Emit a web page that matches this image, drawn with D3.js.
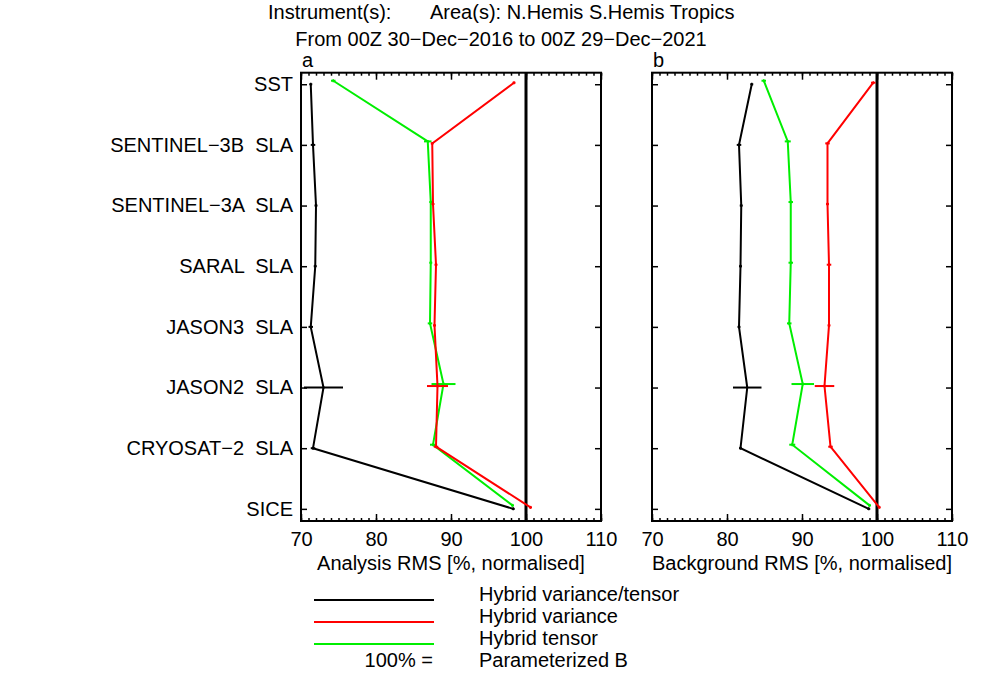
<!DOCTYPE html>
<html>
<head>
<meta charset="utf-8">
<script src="https://cdn.jsdelivr.net/npm/d3@7"></script>
<style>
  body { margin: 0; background: #fff; }
  svg { font-family: "Liberation Sans", Arial, sans-serif; }
  text { white-space: pre; }
</style>
</head>
<body>
<div id="chart"></div>
<script>
(function () {
    "use strict";

    // categories, top to bottom
    var categories = ["SST", "SENTINEL\u22123B  SLA", "SENTINEL\u22123A  SLA", "SARAL  SLA",
        "JASON3  SLA", "JASON2  SLA", "CRYOSAT\u22122  SLA", "SICE"];

    var seriesNames = ["Hybrid variance/tensor", "Hybrid variance", "Hybrid tensor"];
    var seriesColors = ["#000000", "#ff0000", "#00ee00"];

    // panel a: analysis RMS [%, normalised]
    var analysisBlack = [71.3, 71.6, 72.0, 71.9, 71.3, 73.0, 71.6, 98.3];
    var analysisRed   = [98.4, 87.5, 87.6, 88.0, 87.8, 88.2, 88.0, 100.6];
    var analysisGreen = [74.3, 86.9, 87.3, 87.3, 87.2, 89.0, 87.6, 98.2];
    var analysisErrBlack = [0.2, 0.3, 0.2, 0.2, 0.3, 2.6, 0.3, 0.2];
    var analysisErrRed   = [0.2, 0.2, 0.2, 0.2, 0.2, 1.4, 0.3, 0.2];
    var analysisErrGreen = [0.3, 0.5, 0.2, 0.2, 0.3, 1.6, 0.4, 0.2];

    // panel b: background RMS [%, normalised]
    var backgroundBlack = [83.3, 81.6, 81.9, 81.8, 81.6, 82.7, 81.8, 98.9];
    var backgroundRed   = [99.5, 93.4, 93.4, 93.6, 93.6, 93.0, 93.8, 100.3];
    var backgroundGreen = [84.9, 88.1, 88.5, 88.5, 88.3, 90.1, 88.7, 99.0];
    var backgroundErrBlack = [0.2, 0.3, 0.2, 0.2, 0.2, 1.9, 0.2, 0.2];
    var backgroundErrRed   = [0.3, 0.3, 0.2, 0.3, 0.2, 1.3, 0.3, 0.2];
    var backgroundErrGreen = [0.3, 0.4, 0.3, 0.3, 0.3, 1.5, 0.4, 0.2];

    var xTicks = [70, 80, 90, 100, 110];
    var xDomain = [70, 110];
    var reference = 100;

    var titleLeft = "Instrument(s):";
    var titleRight = "Area(s): N.Hemis S.Hemis Tropics";
    var subtitle = "From 00Z 30\u2212Dec\u22122016 to 00Z 29\u2212Dec\u22122021";

    var width = 1002, height = 677;
    var top = 72.7, bottom = 521;
    var fontSize = 20;

    var svg = d3.select("#chart").append("svg")
        .attr("width", width)
        .attr("height", height)
        .style("font-size", fontSize + "px");

    var y = d3.scaleLinear().domain([-0.19, 7.2]).range([top, bottom]);
    var yOffset = [0, -1.5, -3.5];

    svg.append("text").attr("x", 268).attr("y", 19).text(titleLeft);
    svg.append("text").attr("x", 430).attr("y", 19).text(titleRight);
    svg.append("text").attr("x", 501).attr("y", 46).attr("text-anchor", "middle").text(subtitle);

    function drawPanel(opts) {
        var x = d3.scaleLinear().domain(xDomain).range([opts.left, opts.right]);
        var g = svg.append("g");
        var minor = d3.range(xDomain[0], xDomain[1] + 1, 1);

        // top axis
        g.append("g").attr("transform", "translate(0," + top + ")")
            .call(d3.axisTop(x).tickValues(minor).tickSize(-3).tickSizeOuter(0).tickFormat(""));
        g.append("g").attr("transform", "translate(0," + top + ")")
            .call(d3.axisTop(x).tickValues(xTicks).tickSize(-7).tickSizeOuter(0).tickFormat(""));
        // bottom axis
        g.append("g").attr("transform", "translate(0," + bottom + ")")
            .call(d3.axisBottom(x).tickValues(minor).tickSize(-3).tickSizeOuter(0).tickFormat(""));
        g.append("g").attr("class", "xlab").attr("transform", "translate(0," + bottom + ")")
            .call(d3.axisBottom(x).tickValues(xTicks).tickSize(-7).tickSizeOuter(0).tickPadding(11));
        // left / right axes
        var left = d3.axisLeft(y).tickValues(d3.range(categories.length))
            .tickSize(-6).tickSizeOuter(0).tickPadding(8)
            .tickFormat(function (i) { return opts.labels ? categories[i] : ""; });
        g.append("g").attr("transform", "translate(" + opts.left + ",0)").call(left);
        g.append("g").attr("transform", "translate(" + opts.right + ",0)")
            .call(d3.axisRight(y).tickValues(d3.range(categories.length))
                .tickSize(-6).tickSizeOuter(0).tickFormat(""));

        g.selectAll(".domain").remove();
        g.selectAll(".tick line").attr("stroke", "#000").attr("stroke-width", 1.5);
        g.selectAll(".tick text").attr("fill", "#000").style("font-size", fontSize + "px")
            .style("font-family", "'Liberation Sans', Arial, sans-serif");

        g.append("rect")
            .attr("x", opts.left).attr("y", top)
            .attr("width", opts.right - opts.left).attr("height", bottom - top)
            .attr("fill", "none").attr("stroke", "#000").attr("stroke-width", 2);

        // 100% reference line
        g.append("line")
            .attr("x1", x(reference)).attr("x2", x(reference))
            .attr("y1", top).attr("y2", bottom)
            .attr("stroke", "#000").attr("stroke-width", 3);

        // series lines with error bars, green drawn first
        [2, 1, 0].forEach(function (s) {
            var vals = opts.values[s], errs = opts.errors[s], col = seriesColors[s];
            var line = d3.line()
                .x(function (d) { return x(d); })
                .y(function (d, i) { return y(i) + yOffset[s]; });
            g.append("path").datum(vals)
                .attr("d", line)
                .attr("fill", "none").attr("stroke", col).attr("stroke-width", 2);
            g.selectAll(null).data(vals).enter().append("line")
                .attr("x1", function (d, i) { return x(d - errs[i]); })
                .attr("x2", function (d, i) { return x(d + errs[i]); })
                .attr("y1", function (d, i) { return y(i) + yOffset[s]; })
                .attr("y2", function (d, i) { return y(i) + yOffset[s]; })
                .attr("stroke", col).attr("stroke-width", 2);
            g.selectAll(null).data(vals).enter().append("line")
                .attr("x1", function (d) { return x(d); })
                .attr("x2", function (d) { return x(d); })
                .attr("y1", function (d, i) { return y(i) + yOffset[s] - 1.5; })
                .attr("y2", function (d, i) { return y(i) + yOffset[s] + 1.5; })
                .attr("stroke", col).attr("stroke-width", 1.5);
        });

        svg.append("text")
            .attr("x", opts.left + 1).attr("y", 67)
            .text(opts.letter);
        svg.append("text")
            .attr("x", (opts.left + opts.right) / 2).attr("y", 570)
            .attr("text-anchor", "middle")
            .text(opts.title);
    }

    drawPanel({
        left: 301, right: 601, labels: true, letter: "a",
        title: "Analysis RMS [%, normalised]",
        values: [analysisBlack, analysisRed, analysisGreen],
        errors: [analysisErrBlack, analysisErrRed, analysisErrGreen]
    });
    drawPanel({
        left: 652, right: 952, labels: false, letter: "b",
        title: "Background RMS [%, normalised]",
        values: [backgroundBlack, backgroundRed, backgroundGreen],
        errors: [backgroundErrBlack, backgroundErrRed, backgroundErrGreen]
    });

    // legend
    var legendY = [600, 622, 644];
    var legend = svg.append("g");
    seriesNames.forEach(function (name, i) {
        legend.append("line")
            .attr("x1", 314).attr("x2", 434)
            .attr("y1", legendY[i]).attr("y2", legendY[i])
            .attr("stroke", seriesColors[i]).attr("stroke-width", 2);
        legend.append("text")
            .attr("x", 479).attr("y", legendY[i] + 1)
            .text(name);
    });
    legend.append("text").attr("x", 433).attr("y", 667)
        .attr("text-anchor", "end").text("100% =");
    legend.append("text").attr("x", 479).attr("y", 667)
        .text("Parameterized B");
})();
</script>
</body>
</html>
